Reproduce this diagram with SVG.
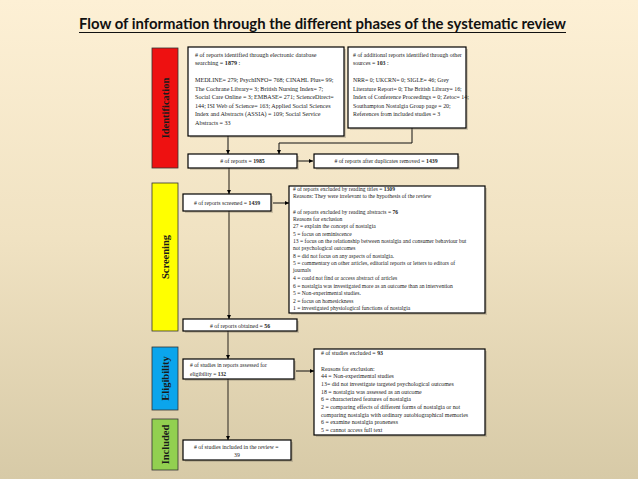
<svg xmlns="http://www.w3.org/2000/svg" width="638" height="479" viewBox="0 0 638 479">
<defs>
<linearGradient id="bg" x1="0" y1="0" x2="0" y2="1">
<stop offset="0" stop-color="#FDF0D5"/>
<stop offset="0.5" stop-color="#F0E2C2"/>
<stop offset="1" stop-color="#D7CAA7"/>
</linearGradient>
<marker id="ah" viewBox="0 0 6 6" refX="6" refY="3" markerWidth="4.5" markerHeight="4.5" orient="auto" markerUnits="userSpaceOnUse">
<path d="M0,0 L6,3 L0,6 Z" fill="#000"/>
</marker>
<style>
.box{fill:#fff;stroke:#000;stroke-width:1.2}
.sh{fill:#8a826f;opacity:0.35}
.bar{stroke:#333;stroke-width:0.8}
.lab{font-family:"Liberation Serif",serif;font-weight:bold;font-size:10.5px;fill:#1a1a1a;text-anchor:middle}
.t{font-family:"Liberation Serif",serif;fill:#222}
.a{font-size:6.1px}
.a2{font-size:5.85px}
.s{font-size:5.6px}
.m{font-size:5.8px}
.m2{font-size:5.9px}
.c{text-anchor:middle}
.b{font-weight:bold}
.ln{fill:none;stroke:#111;stroke-width:1}
.lg{fill:none;stroke:#6e6656;stroke-width:1.6}
</style>
</defs>
<rect x="0" y="0" width="638" height="479" fill="url(#bg)"/>
<g id="title">
<text x="322.5" y="29" font-family="Lato, 'Open Sans', sans-serif" font-weight="bold" font-size="15.5" fill="#111" text-anchor="middle" textLength="487" lengthAdjust="spacingAndGlyphs">Flow of information through the different phases of the systematic review</text>
<line x1="79" y1="32.5" x2="566" y2="32.5" stroke="#111" stroke-width="1.2"/>
</g>
<g id="phase-identification">
<rect class="bar" x="152" y="48" width="26" height="120" fill="#EE1111"/>
<text class="lab" transform="translate(168.5,108) rotate(-90)">Identification</text>
</g>
<g id="phase-screening">
<rect class="bar" x="152" y="183" width="26" height="148" fill="#FFFF00"/>
<text class="lab" transform="translate(168.5,257) rotate(-90)">Screening</text>
</g>
<g id="phase-eligibility">
<rect class="bar" x="152" y="347" width="26" height="63" fill="#0BA5EC"/>
<text class="lab" transform="translate(168.5,378.5) rotate(-90)">Eligibility</text>
</g>
<g id="phase-included">
<rect class="bar" x="152" y="419" width="26" height="51" fill="#92D050"/>
<text class="lab" transform="translate(168.5,444.5) rotate(-90)">Included</text>
</g>
<g id="connectors">
<path class="ln" d="M228,136 V154" marker-end="url(#ah)"/>
<path class="ln" d="M412,128 V143 H279 V154" marker-end="url(#ah)"/>
<path class="ln" d="M297,161 H313" marker-end="url(#ah)"/>
<path class="lg" d="M229,168 V194" marker-end="url(#ah)"/>
<path class="ln" d="M273,203 H289" marker-end="url(#ah)"/>
<path class="lg" d="M229,211 V319" marker-end="url(#ah)"/>
<path class="lg" d="M228,331 V359" marker-end="url(#ah)"/>
<path class="ln" d="M296,371 H314" marker-end="url(#ah)"/>
<path class="lg" d="M228,379 V440" marker-end="url(#ah)"/>
</g>
<g id="box-database">
<rect class="sh" x="190" y="49" width="156" height="89"/>
<rect class="box" x="188" y="47" width="156" height="89"/>
<text class="t a">
<tspan x="195" y="57">&#35; of reports identified through electronic database</tspan>
<tspan x="195" y="65">searching = <tspan class="b">1879</tspan> :</tspan>
<tspan x="195" y="82">MEDLINE= 279; PsychINFO= 768; CINAHL Plus= 99;</tspan>
<tspan x="195" y="90.5">The Cochrane Library= 3; British Nursing Index= 7;</tspan>
<tspan x="195" y="99">Social Care Online = 3; EMBASE= 271; ScienceDirect=</tspan>
<tspan x="195" y="107.5">144; ISI Web of Science= 163; Applied Social Sciences</tspan>
<tspan x="195" y="116">Index and Abstracts (ASSIA) = 109; Social Service</tspan>
<tspan x="195" y="124.5">Abstracts = 33</tspan>
</text>
</g>
<g id="box-other-sources">
<rect class="sh" x="350" y="49" width="118" height="81"/>
<rect class="box" x="348" y="47" width="118" height="81"/>
<text class="t a2">
<tspan x="353" y="57">&#35; of additional reports identified through other</tspan>
<tspan x="353" y="65">sources = <tspan class="b">103</tspan> :</tspan>
<tspan x="353" y="82">NRR= 0; UKCRN= 0; SIGLE= 46; Grey</tspan>
<tspan x="353" y="90.5">Literature Report= 0; The British Library= 16;</tspan>
<tspan x="353" y="99">Index of Conference Proceedings = 0; Zetoc= 14;</tspan>
<tspan x="353" y="107.5">Southampton Nostalgia Group page = 20;</tspan>
<tspan x="353" y="116">References from included studies = 3</tspan>
</text>
</g>
<g id="box-reports">
<rect class="sh" x="190" y="156" width="109" height="14"/>
<rect class="box" x="188" y="154" width="109" height="14"/>
<text class="t m c" x="242.5" y="163">&#35; of reports = <tspan class="b">1985</tspan></text>
</g>
<g id="box-duplicates">
<rect class="sh" x="316" y="156" width="144" height="14"/>
<rect class="box" x="314" y="154" width="144" height="14"/>
<text class="t m c" x="386" y="163">&#35; of reports after duplicates removed = <tspan class="b">1439</tspan></text>
</g>
<g id="box-screened">
<rect class="sh" x="185" y="196" width="88" height="17"/>
<rect class="box" x="183" y="194" width="88" height="17"/>
<text class="t m c" x="227" y="205">&#35; of reports screened = <tspan class="b">1439</tspan></text>
</g>
<g id="box-excluded-reports">
<rect class="sh" x="291" y="188" width="196" height="127"/>
<rect class="box" x="289" y="186" width="196" height="127"/>
<text class="t s">
<tspan x="293" y="191">&#35; of reports excluded by reading titles = <tspan class="b">1309</tspan></tspan>
<tspan x="293" y="197.5">Reasons: They were irrelevant to the hypothesis of the review</tspan>
<tspan x="293" y="214">&#35; of reports excluded by reading abstracts = <tspan class="b">76</tspan></tspan>
<tspan x="293" y="221">Reasons for exclusion</tspan>
<tspan x="293" y="228.3">27 = explain the concept of nostalgia</tspan>
<tspan x="293" y="235.6">5 = focus on reminiscence</tspan>
<tspan x="293" y="242.9">13 = focus on the relationship between nostalgia and consumer behaviour but</tspan>
<tspan x="293" y="250.2">not psychological outcomes</tspan>
<tspan x="293" y="257.7">8 = did not focus on any aspects of nostalgia.</tspan>
<tspan x="293" y="265">5 = commentary on other articles, editorial reports or letters to editors of</tspan>
<tspan x="293" y="272.3">journals</tspan>
<tspan x="293" y="280">4 = could not find or access abstract of articles</tspan>
<tspan x="293" y="287.7">6 = nostalgia was investigated more as an outcome than an intervention</tspan>
<tspan x="293" y="295">5 = Non-experimental studies.</tspan>
<tspan x="293" y="302.7">2 = focus on homesickness</tspan>
<tspan x="293" y="310">1 = investigated physiological functions of nostalgia</tspan>
</text>
</g>
<g id="box-obtained">
<rect class="sh" x="185" y="321" width="114" height="12"/>
<rect class="box" x="183" y="319" width="114" height="12"/>
<text class="t m c" x="240" y="327.5">&#35; of reports obtained = <tspan class="b">56</tspan></text>
</g>
<g id="box-eligibility">
<rect class="sh" x="185" y="361" width="111" height="20"/>
<rect class="box" x="183" y="359" width="111" height="20"/>
<text class="t s">
<tspan x="190" y="367">&#35; of studies in reports assessed for</tspan>
<tspan x="190" y="375.5">eligibility = <tspan class="b">132</tspan></tspan>
</text>
</g>
<g id="box-excluded-studies">
<rect class="sh" x="316" y="351" width="171" height="86"/>
<rect class="box" x="314" y="349" width="171" height="86"/>
<text class="t m2">
<tspan x="321" y="355">&#35; of studies excluded = <tspan class="b">93</tspan></tspan>
<tspan x="321" y="370.5">Reasons for exclusion:</tspan>
<tspan x="321" y="378.3">44 = Non-experimental studies</tspan>
<tspan x="321" y="386">13= did not investigate targeted psychological outcomes</tspan>
<tspan x="321" y="393.5">18 = nostalgia was assessed as an outcome</tspan>
<tspan x="321" y="401.2">6 = characterized features of nostalgia</tspan>
<tspan x="321" y="408.8">2 = comparing effects of different forms of nostalgia or not</tspan>
<tspan x="321" y="416.5">comparing nostalgia with ordinary autobiographical memories</tspan>
<tspan x="321" y="424.2">6 = examine nostalgia proneness</tspan>
<tspan x="321" y="431.8">5 = cannot access full text</tspan>
</text>
</g>
<g id="box-included">
<rect class="sh" x="185" y="442" width="108" height="20"/>
<rect class="box" x="183" y="440" width="108" height="20"/>
<text class="t m c">
<tspan x="237" y="448.5">&#35; of studies included in the review =</tspan>
<tspan x="237" y="457">39</tspan>
</text>
</g>
</svg>
